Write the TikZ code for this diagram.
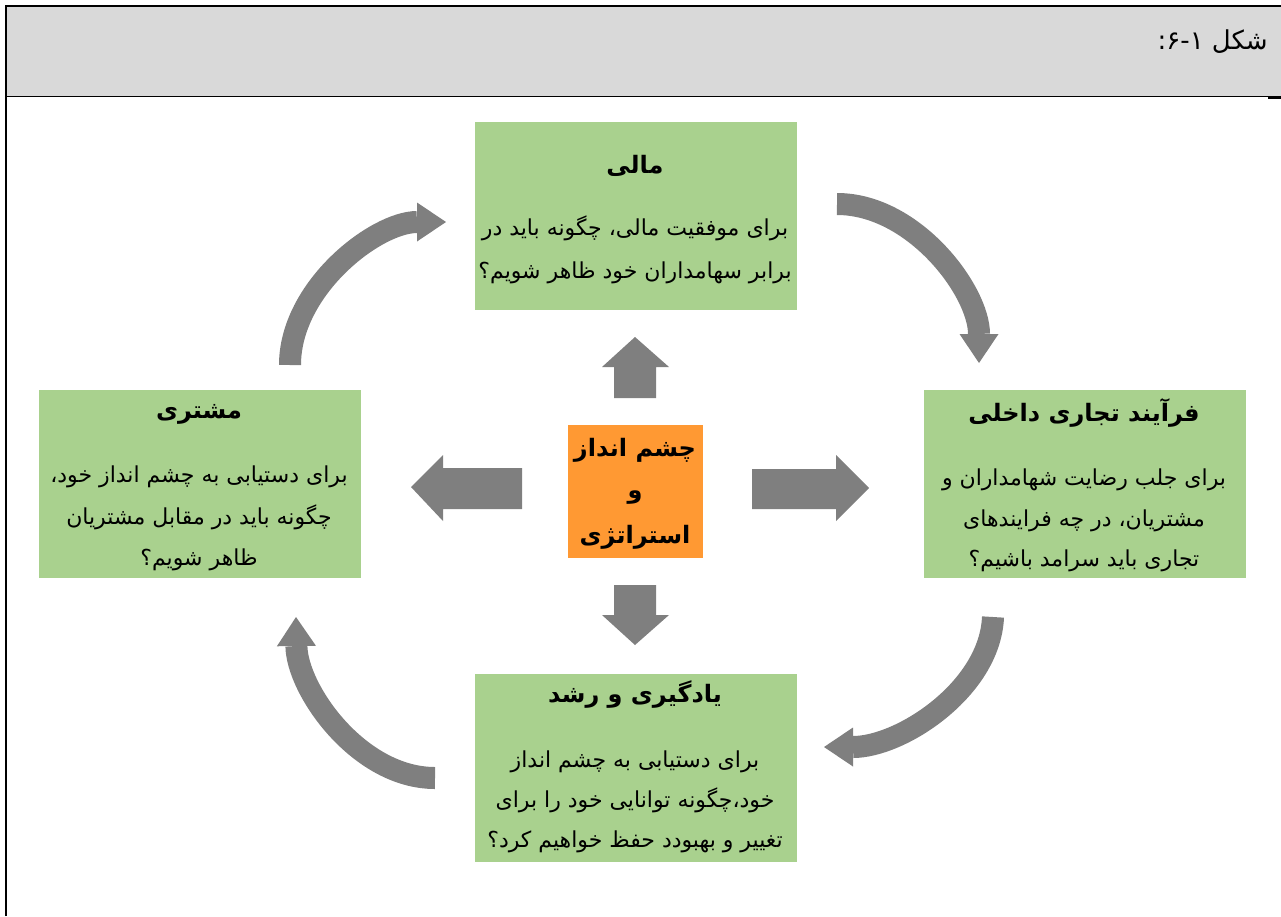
\documentclass[tikz,border=0pt]{standalone}
\usepackage{fontspec}
\TeXXeTstate=1
\newfontfamily\fa[Script=Arabic]{DejaVu Sans}
\usetikzlibrary{arrows.meta}
\definecolor{headgray}{RGB}{217,217,217}
\definecolor{boxgreen}{RGB}{169,209,142}
\definecolor{coreorange}{RGB}{255,153,51}
\definecolor{arrowgray}{RGB}{127,127,127}
\newcommand\rtl[1]{\beginR #1\endR}
\tikzset{
  gbox/.style={rectangle, fill=boxgreen, draw=white, line width=0.6pt,
    minimum width=323pt, minimum height=189pt, inner sep=0pt},
  corebox/.style={rectangle, fill=coreorange, draw=white, line width=0.6pt,
    minimum width=136pt, minimum height=134pt, inner sep=0pt},
  ttl/.style={anchor=base, inner sep=0pt, font=\fa\bfseries\fontsize{24}{28}\selectfont},
  body/.style={anchor=base, inner sep=0pt, font=\fa\fontsize{22}{26}\selectfont},
  coretxt/.style={anchor=base, inner sep=0pt, font=\fa\bfseries\fontsize{24}{28}\selectfont},
  blockarrow/.style={fill=arrowgray},
  bend arrow/.style={draw=arrowgray, line width=22pt, line cap=butt,
    -{Triangle[length=29pt,width=39pt,line width=0pt]}}
}
\begin{document}
\begin{tikzpicture}[x=1pt,y=-1pt]
\useasboundingbox (0,0) rectangle (1281,916);

% caption strip
\fill[headgray] (6,6) rectangle (1281,96.5);
\draw[line width=1.2pt] (6,96.5) -- (1281,96.5);
\draw[line width=2.2pt] (1268,97.5) -- (1281,97.5);
\draw[line width=2.4pt, line join=miter] (6,916) -- (6,6) -- (1281,6);
\node[anchor=base east, inner sep=0pt, font=\fa\fontsize{26}{30}\selectfont] (cap) at (1268,49)
  {\rtl{شکل ۱\kern0pt-\kern0pt۶\kern0pt:}};

% four perspectives
\node[gbox] (fin) at (635.5,215.5) {};
\node[gbox] (cus) at (199.5,483.5) {};
\node[gbox] (ipr) at (1084.5,483.5) {};
\node[gbox] (lrn) at (635.5,767.5) {};
\node[corebox] (core) at (635,491) {};

% financial
\node[ttl]  (finT) at (635,173) {\rtl{مالی}};
\node[body] (fin1) at (635,235) {\rtl{برای موفقیت مالی، چگونه باید در}};
\node[body] (fin2) at (635,278) {\rtl{برابر سهامداران خود ظاهر شویم؟}};

% customer
\node[ttl]  (cusT) at (199,418) {\rtl{مشتری}};
\node[body] (cus1) at (199,482) {\rtl{برای دستیابی به چشم انداز خود،}};
\node[body] (cus2) at (199,524) {\rtl{چگونه باید در مقابل مشتریان}};
\node[body] (cus3) at (199,565) {\rtl{ظاهر شویم؟}};

% internal process
\node[ttl]  (iprT) at (1084,421) {\rtl{فرآیند تجاری داخلی}};
\node[body] (ipr1) at (1084,485) {\rtl{برای جلب رضایت شهامداران و}};
\node[body] (ipr2) at (1084,526) {\rtl{مشتریان، در چه فرایندهای}};
\node[body] (ipr3) at (1084,566) {\rtl{تجاری باید سرامد باشیم؟}};

% learning and growth
\node[ttl]  (lrnT) at (635,702) {\rtl{یادگیری و رشد}};
\node[body] (lrn1) at (635,767) {\rtl{برای دستیابی به چشم انداز}};
\node[body] (lrn2) at (635,807) {\rtl{خود،چگونه توانایی خود را برای}};
\node[body] (lrn3) at (635,847) {\rtl{تغییر و بهبودد حفظ خواهیم کرد؟}};

% vision and strategy
\node[coretxt] (core1) at (635,456) {\rtl{چشم انداز}};
\node[coretxt] (core2) at (635,498) {\rtl{و}};
\node[coretxt] (core3) at (635,543) {\rtl{استراتژی}};

% block arrows out of the centre
\fill[blockarrow] (614,398) -- (614,367) -- (602,367) -- (635,337) -- (669,367) -- (656,367) -- (656,398) -- cycle;
\fill[blockarrow] (614,585) -- (656,585) -- (656,615) -- (669,615) -- (635,645) -- (602,615) -- (614,615) -- cycle;
\fill[blockarrow] (522,468) -- (443,468) -- (443,455) -- (411,487) -- (443,521) -- (443,509) -- (522,509) -- cycle;
\fill[blockarrow] (752,469) -- (836,469) -- (836,455) -- (869,488) -- (836,521) -- (836,509) -- (752,509) -- cycle;

% curved arrows around the cycle
\coordinate (c1s) at (290,365);  \coordinate (c1e) at (446,222);
\coordinate (c2s) at (837,204);  \coordinate (c2e) at (979,363);
\coordinate (c3s) at (993,617);  \coordinate (c3e) at (824,747);
\coordinate (c4s) at (435,778);  \coordinate (c4e) at (296,617);
\draw[bend arrow] (c1s) .. controls (290,288) and (376,222) .. (c1e);
\draw[bend arrow] (c2s) .. controls (914,204) and (979,291) .. (c2e);
\draw[bend arrow] (c3s) .. controls (990,689) and (901,747) .. (c3e);
\draw[bend arrow] (c4s) .. controls (359,778) and (297,690) .. (c4e);
\end{tikzpicture}
\end{document}
